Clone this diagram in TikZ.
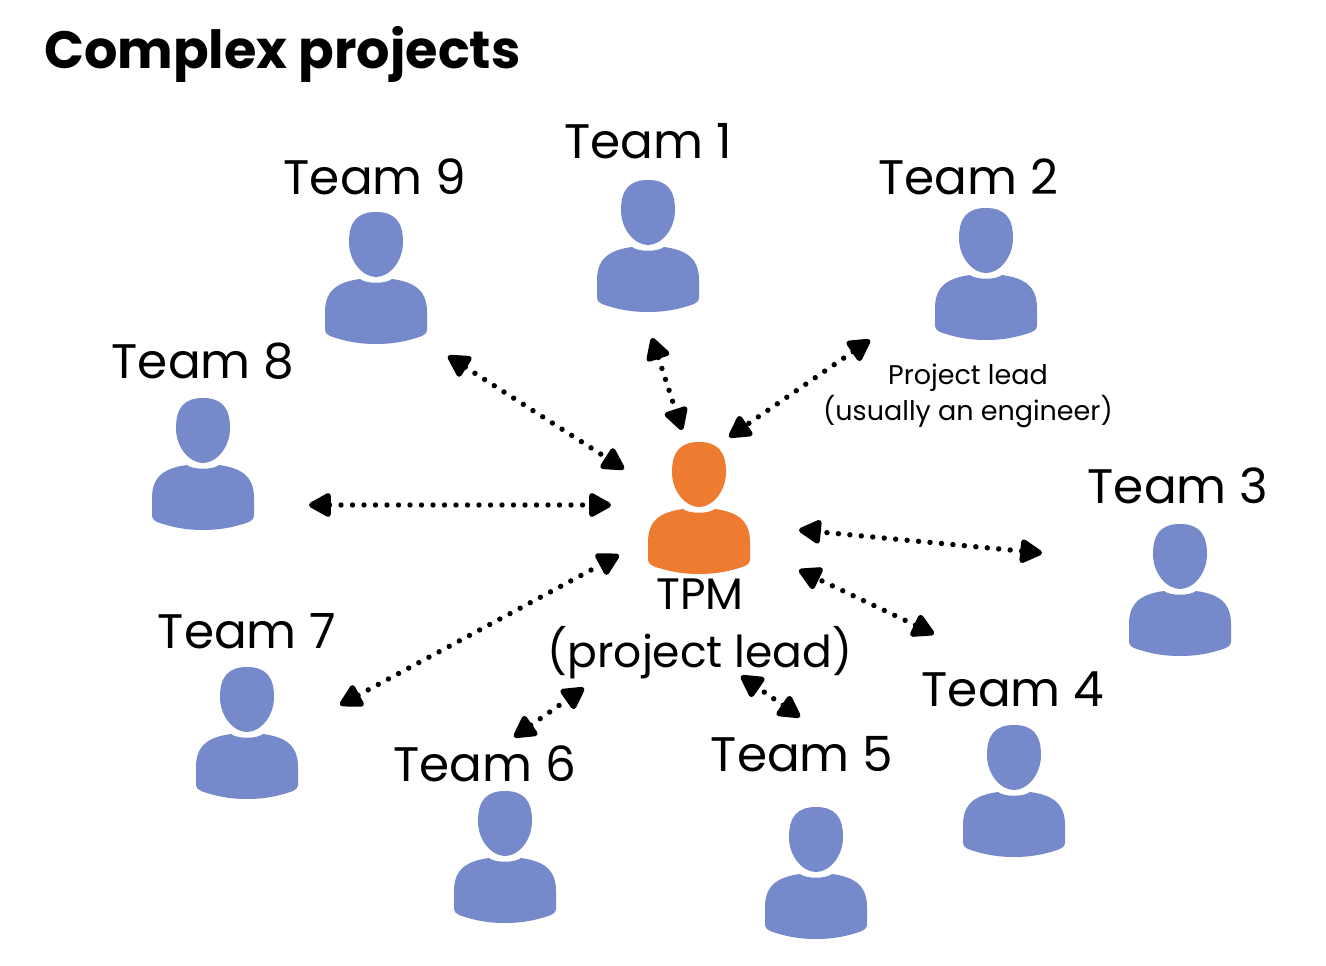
\documentclass[tikz,border=0pt]{standalone}
\usepackage{fontspec}
\setmainfont{Poppins}
\usetikzlibrary{arrows.meta}
\definecolor{iconblue}{HTML}{7589CB}
\definecolor{iconorange}{HTML}{ED7B30}
\tikzset{
  x=1pt,y=-1pt,
  teamlabel/.style={font=\fontsize{48.5}{52}\selectfont,inner sep=0pt,text=black},
  leadlabel/.style={font=\fontsize{44}{48}\selectfont,inner sep=0pt,text=black},
  smalllabel/.style={font=\fontsize{27}{30}\selectfont,inner sep=0pt,text=black},
  titlelabel/.style={font=\fontsize{52.5}{56}\selectfont\bfseries,inner sep=0pt,text=black,anchor=west},
  link/.style={line width=5.4pt,line cap=round,dash pattern=on 0pt off 11.5pt,
    {Triangle[length=25pt,width=26pt,round]}-{Triangle[length=25pt,width=26pt,round]},
    shorten <=0pt,shorten >=0pt},
  pics/person/.style={code={
    \fill[#1] (0,0) .. controls (19,0) and (27,10) .. (27,30)
      .. controls (27,50) and (13,65) .. (0,65)
      .. controls (-13,65) and (-27,50) .. (-27,30)
      .. controls (-27,10) and (-19,0) .. (0,0) -- cycle;
    \fill[#1] (-16,67) .. controls (-10,72) and (10,72) .. (16,67)
      .. controls (38,70) and (51,78) .. (51,100)
      -- (51,118) .. controls (50,122) and (49,122) .. (46,124)
      .. controls (32,129) and (18,132) .. (0,132)
      .. controls (-18,132) and (-32,129) .. (-46,124)
      .. controls (-49,122) and (-50,122) .. (-51,118)
      -- (-51,100) .. controls (-51,78) and (-38,70) .. (-16,67) -- cycle;
  }}
}
\begin{document}
\begin{tikzpicture}
\useasboundingbox (0,0) rectangle (1326,966);
\fill[white] (0,0) rectangle (1326,966);

\node[titlelabel] (title) at (44,54) {Complex projects};

\pic at (648,180) {person=iconblue};
\pic at (986,208) {person=iconblue};
\pic at (1180,524) {person=iconblue};
\pic at (1014,725) {person=iconblue};
\pic at (816,807) {person=iconblue};
\pic at (505,791) {person=iconblue};
\pic at (247,667) {person=iconblue};
\pic at (203,398) {person=iconblue};
\pic at (376,212) {person=iconblue};
\pic at (699,442) {person=iconorange};

\node[teamlabel] (team1) at (648,141) {Team 1};
\node[teamlabel] (team2) at (968,177) {Team 2};
\node[teamlabel] (team3) at (1178,486) {Team 3};
\node[teamlabel] (team4) at (1013,689) {Team 4};
\node[teamlabel] (team5) at (802,754) {Team 5};
\node[teamlabel] (team6) at (485,764) {Team 6};
\node[teamlabel] (team7) at (247,631) {Team 7};
\node[teamlabel] (team8) at (203,361) {Team 8};
\node[teamlabel] (team9) at (375,177) {Team 9};
\node[leadlabel] (tpm) at (700,594) {TPM};
\node[leadlabel] (plead) at (700,653) {(project lead)};
\node[smalllabel] (lead2a) at (968,378) {Project lead};
\node[smalllabel] (lead2b) at (968,412) {(usually an engineer)};

\coordinate (a9) at (448,356); \coordinate (b9) at (624,469);
\coordinate (a1) at (652,338); \coordinate (b1) at (682,430);
\coordinate (a2) at (870,340); \coordinate (b2) at (729,437);
\coordinate (a8) at (309,505); \coordinate (b8) at (611,505);
\coordinate (a3) at (1042,553); \coordinate (b3) at (799,530);
\coordinate (a4) at (934,634); \coordinate (b4) at (799,570);
\coordinate (a5) at (800,717); \coordinate (b5) at (741,676);
\coordinate (a6) at (514,737); \coordinate (b6) at (584,688);
\coordinate (a7) at (340,705); \coordinate (b7) at (619,555);

\foreach \n in {1,...,9} \draw[link] (a\n) -- (b\n);
\end{tikzpicture}
\end{document}
